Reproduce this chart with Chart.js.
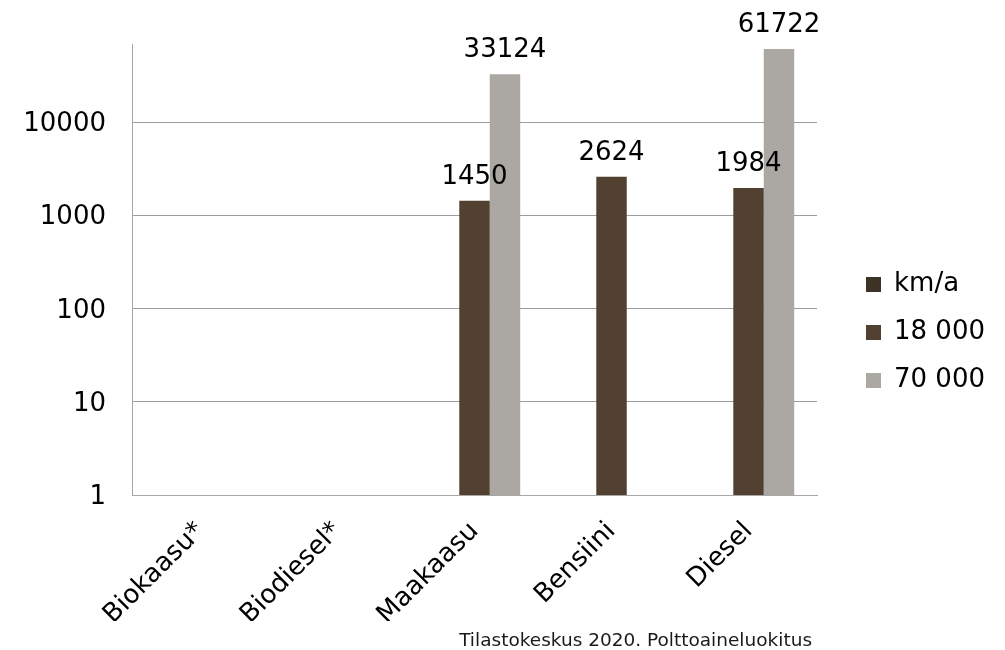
<!DOCTYPE html>
<html>
<head>
<meta charset="utf-8">
<script src="https://cdn.jsdelivr.net/npm/chart.js@4/dist/chart.umd.min.js"></script>
<style>
  html, body { margin: 0; padding: 0; background: #ffffff; }
  #wrap { width: 1005px; height: 650px; position: relative; }
</style>
</head>
<body>
<div id="wrap"><canvas id="c" width="1005" height="650"></canvas></div>
<script>
const categories = ['Biokaasu*', 'Biodiesel*', 'Maakaasu', 'Bensiini', 'Diesel'];
const seriesNames = ['km/a', '18 000', '70 000'];
const kmA = [null, null, null, null, null];
const km18000 = [null, null, 1450, 2624, 1984];
const km70000 = [null, null, 33124, null, 61722];
const yTickValues = [1, 10, 100, 1000, 10000];
const yMin = 1;
const yMax = 70000;
const footnote = 'Tilastokeskus 2020. Polttoaineluokitus';

const FONT = "'DejaVu Sans', Verdana, sans-serif";

const valueLabels = {
  id: 'valueLabels',
  afterDatasetsDraw(chart) {
    const ctx = chart.ctx;
    ctx.save();
    ctx.font = '26px ' + FONT;
    ctx.fillStyle = '#000000';
    ctx.textAlign = 'center';
    ctx.textBaseline = 'alphabetic';
    chart.data.datasets.forEach((ds, i) => {
      const meta = chart.getDatasetMeta(i);
      meta.data.forEach((el, j) => {
        const v = ds.data[j];
        if (v === null || v === undefined) return;
        ctx.fillText(String(v), el.x, el.y - 17);
      });
    });
    ctx.restore();
  }
};

const footnotePlugin = {
  id: 'footnotePlugin',
  afterDraw(chart) {
    const ctx = chart.ctx;
    ctx.save();
    ctx.font = '18.5px ' + FONT;
    ctx.fillStyle = '#1a1a1a';
    ctx.textAlign = 'right';
    ctx.textBaseline = 'alphabetic';
    ctx.fillText(footnote, chart.chartArea.right - 5, chart.height - 4);
    ctx.restore();
  }
};

new Chart(document.getElementById('c'), {
  type: 'bar',
  data: {
    labels: categories,
    datasets: [
      { label: seriesNames[0], data: kmA, backgroundColor: '#3d3226' },
      { label: seriesNames[1], data: km18000, backgroundColor: '#524130' },
      { label: seriesNames[2], data: km70000, backgroundColor: '#aba7a3' }
    ]
  },
  options: {
    responsive: false,
    animation: false,
    layout: { padding: { left: 0, right: 10, top: 44, bottom: 29 } },
    datasets: { bar: { categoryPercentage: 0.667, barPercentage: 1.0 } },
    scales: {
      x: {
        grid: { display: false, drawTicks: false },
        border: { display: true, color: '#a6a6a6', width: 1 },
        ticks: {
          color: '#000000',
          font: { family: FONT, size: 26 },
          minRotation: 45,
          maxRotation: 45,
          padding: 21,
          autoSkip: false
        },
        afterFit(s) { s.height = 126; }
      },
      y: {
        type: 'logarithmic',
        min: yMin,
        max: yMax,
        grid: { color: '#9c9c9c', lineWidth: 1, drawTicks: false },
        border: { display: true, color: '#a6a6a6', width: 1 },
        afterBuildTicks(s) {
          s.ticks = yTickValues.map(v => ({ value: v, major: true }));
        },
        ticks: {
          color: '#000000',
          font: { family: FONT, size: 26 },
          padding: 26,
          labelOffset: 2,
          callback: (v) => String(v)
        },
        afterFit(s) { s.width = 132; }
      },
      gap: {
        type: 'linear',
        position: 'right',
        display: true,
        grid: { display: false, drawTicks: false },
        border: { display: false },
        ticks: { display: false },
        afterFit(s) { s.width = 27; }
      }
    },
    plugins: {
      legend: {
        position: 'right',
        labels: {
          color: '#000000',
          font: { family: FONT, size: 26 },
          boxWidth: 15,
          boxHeight: 15,
          padding: 22
        }
      },
      tooltip: { enabled: false },
      title: { display: false }
    }
  },
  plugins: [valueLabels, footnotePlugin]
});
</script>
</body>
</html>
